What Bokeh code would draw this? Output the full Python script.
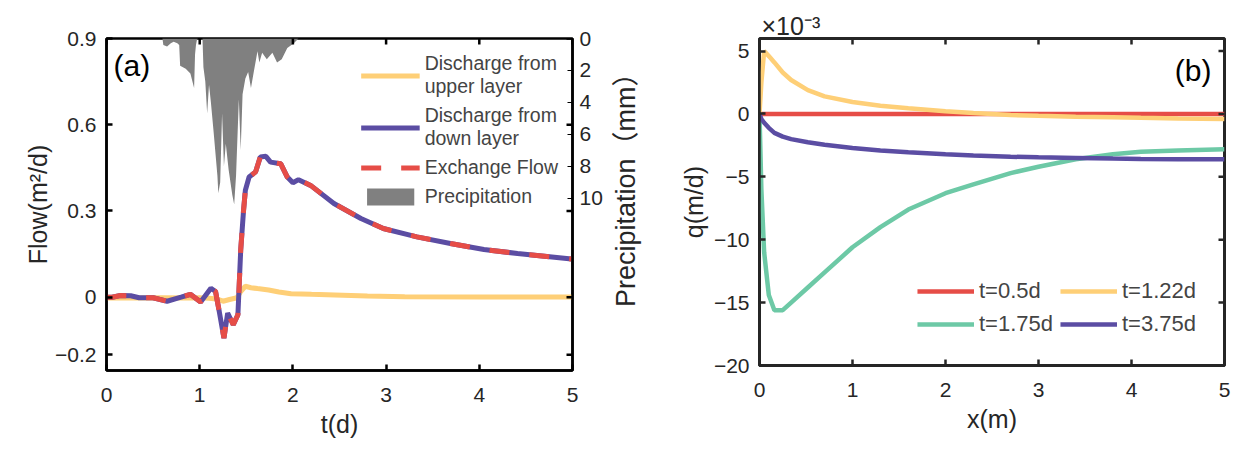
import math
import numpy as np
from bokeh.plotting import figure
from bokeh.models import (Range1d, LinearAxis, FixedTicker, Legend, LegendItem, Label, Title)
from bokeh.layouts import row
from bokeh.embed import file_html
from bokeh.resources import INLINE

FONT = "Liberation Sans"

# ---------------- panel (a) data ----------------
t_rain = [0.60, 0.61, 0.65, 0.69, 0.72, 0.76, 0.78, 0.79, 0.85, 0.90, 0.94, 0.95, 0.96, 0.97,
          0.98, 1.03, 1.04, 1.06, 1.08, 1.10, 1.12, 1.15, 1.19, 1.20, 1.22, 1.24, 1.26, 1.28,
          1.31, 1.35, 1.37, 1.39, 1.42, 1.44, 1.46, 1.49, 1.52, 1.55, 1.58, 1.62, 1.64, 1.67,
          1.72, 1.78, 1.83, 1.88, 1.94, 2.01, 2.06]
rain_mm = [0, 0.4, 0.5, 0.3, 0.2, 0.3, 0.4, 1.7, 1.9, 2.2, 3.1, 1.0, 0.4, 0.1,
           0, 0, 1.8, 2.7, 4.7, 2.9, 4.0, 5.9, 8.6, 9.7, 9.0, 4.7, 8.0, 6.6,
           8.2, 9.8, 10.4, 8.6, 3.8, 7.0, 3.5, 2.5, 2.1, 3.1, 2.1, 0.8, 1.5, 0.9,
           1.3, 0.9, 1.5, 1.3, 0.6, 0.3, 0]

t_flow = [0, 0.06, 0.15, 0.26, 0.35, 0.5, 0.65, 0.8, 0.9, 1.01, 1.12, 1.17, 1.21, 1.26, 1.30,
          1.36, 1.41, 1.44, 1.47, 1.49, 1.53, 1.60, 1.65, 1.71, 1.76, 1.87, 1.94, 2.0, 2.06,
          2.19, 2.44, 2.73, 2.97, 3.33, 3.69, 4.05, 4.41, 4.99]
q_down = [0, 0.0, 0.006, 0.005, -0.002, -0.002, -0.014, 0.0, 0.01, -0.017, 0.031, 0.02, -0.05,
          -0.142, -0.055, -0.096, -0.061, 0.164, 0.30, 0.372, 0.418, 0.436, 0.488, 0.49, 0.47,
          0.464, 0.418, 0.398, 0.409, 0.389, 0.326, 0.274, 0.239, 0.21, 0.187, 0.166, 0.152, 0.133]
q_exchange = list(q_down)

t_up = [0, 0.3, 0.6, 0.9, 1.0, 1.1, 1.18, 1.25, 1.32, 1.4, 1.44, 1.49, 1.55, 1.62, 1.74, 1.85,
        1.98, 2.2, 2.45, 2.8, 3.2, 4.0, 5.0]
q_up = [-0.003, -0.003, -0.002, -0.003, -0.002, -0.004, -0.006, -0.014, -0.008, -0.002, 0.02,
        0.038, 0.033, 0.03, 0.025, 0.018, 0.012, 0.01, 0.008, 0.004, 0.002, 0.001, 0.001]

# ---------------- panel (b) data (units of 1e-3 m/d) ----------------
x_b = [0, 0.02, 0.05, 0.1, 0.16, 0.25, 0.34, 0.52, 0.7, 1.0, 1.3, 1.6, 2.0, 2.3, 2.7, 3.0,
       3.4, 3.8, 4.1, 4.5, 5.0]
q_t05 = [0] * len(x_b)
q_t122 = [0, 2.5, 5.0, 4.6, 4.1, 3.3, 2.7, 1.9, 1.4, 0.95, 0.65, 0.45, 0.22, 0.07, -0.08,
          -0.15, -0.22, -0.27, -0.31, -0.36, -0.4]
q_t175 = [0, -6, -11, -14.4, -15.6, -15.6, -15.0, -13.8, -12.6, -10.6, -9.0, -7.6, -6.3, -5.6,
          -4.7, -4.2, -3.6, -3.2, -3.0, -2.9, -2.8]
q_t375 = [0, -0.4, -0.7, -1.1, -1.5, -1.8, -2.0, -2.25, -2.45, -2.7, -2.9, -3.05, -3.2, -3.3,
          -3.4, -3.45, -3.5, -3.55, -3.58, -3.6, -3.6]

ticks_t = [0, 1, 2, 3, 4, 5]
ticks_flow = [-0.2, 0, 0.3, 0.6, 0.9]
ticks_rain = [0, 2, 4, 6, 8, 10]
ticks_q = [-20, -15, -10, -5, 0, 5]

RED = "#E64D47"
YEL = "#FECF77"
BLU = "#5B4DA3"
GRN = "#6DC9A6"
GRY = "#808080"

TICK_FS = "21px"
LAB_FS = "25px"


def style_axis(ax, color="black"):
    ax.axis_line_color = color
    ax.axis_line_width = 2.5
    ax.major_tick_in = 6
    ax.major_tick_out = 0
    ax.major_tick_line_width = 2.5
    ax.major_tick_line_color = color
    ax.minor_tick_line_color = None
    ax.major_label_text_font = FONT
    ax.major_label_text_font_size = TICK_FS
    ax.major_label_text_color = "#262626"
    ax.axis_label_text_font = FONT
    ax.axis_label_text_font_size = LAB_FS
    ax.axis_label_text_font_style = "normal"
    ax.axis_label_text_color = "#262626"


def mirror_ticks(p, xs, ys, horizontal, color):
    # small inward tick marks on the top / right frame edges (half clipped by the frame)
    p.scatter(x=xs, y=ys, marker="dash", size=12, line_width=2.5, line_color=color,
              angle=0 if horizontal else math.pi / 2)


# ---------------- figure (a) ----------------
pa = figure(output_backend="svg", toolbar_location=None,
            frame_width=466, frame_height=332,
            min_border_left=106, min_border_right=31, min_border_top=36, min_border_bottom=52,
            x_range=Range1d(0, 5), y_range=Range1d(-0.255, 0.9))
pa.extra_y_ranges = {"rain": Range1d(20.8, 0)}
pa.grid.visible = False
pa.outline_line_color = "black"
pa.outline_line_width = 2.5
pa.background_fill_color = "white"
pa.border_fill_color = "white"

pa.xaxis.ticker = FixedTicker(ticks=ticks_t)
pa.yaxis.ticker = FixedTicker(ticks=ticks_flow)
pa.yaxis.major_label_overrides = {0: "0"}
pa.xaxis.axis_label = "t(d)"
pa.yaxis.axis_label = "Flow(m\u00b2/d)"
for ax in pa.xaxis + pa.yaxis:
    style_axis(ax)
pa.xaxis.major_label_standoff = 17
pa.yaxis.major_label_standoff = 10
pa.xaxis.axis_label_standoff = 5
pa.yaxis.axis_label_standoff = 0

rain_ax = LinearAxis(y_range_name="rain", ticker=FixedTicker(ticks=ticks_rain))
style_axis(rain_ax)
rain_ax.major_tick_line_width = 1
rain_ax.major_tick_in = 5
rain_ax.major_label_standoff = 7
pa.add_layout(rain_ax, "right")

r_rain = pa.varea(x=t_rain, y1=[0] * len(t_rain), y2=rain_mm, y_range_name="rain",
                  fill_color=GRY, fill_alpha=1.0)
r_up = pa.line(t_up, q_up, line_color=YEL, line_width=5)
r_down = pa.line(t_flow, q_down, line_color=BLU, line_width=5)
r_ex = pa.line(t_flow, q_exchange, line_color=RED, line_width=5, line_dash="20 20")

mirror_ticks(pa, ticks_t, [0.9] * len(ticks_t), False, "black")
mirror_ticks(pa, [5] * len(ticks_flow), ticks_flow, True, "black")

leg_a = Legend(items=[
    LegendItem(label="Discharge from\nupper layer", renderers=[r_up]),
    LegendItem(label="Discharge from\ndown layer", renderers=[r_down]),
    LegendItem(label="Exchange Flow", renderers=[r_ex]),
    LegendItem(label="Precipitation", renderers=[r_rain]),
], location="top_right")
leg_a.label_text_font = FONT
leg_a.label_text_font_size = "19.5px"
leg_a.label_text_line_height = 1.38
leg_a.glyph_width = 59
leg_a.glyph_height = 21
leg_a.label_standoff = 5
leg_a.spacing = 6
leg_a.padding = 3
leg_a.margin = 14
leg_a.border_line_color = None
leg_a.background_fill_alpha = 0
pa.add_layout(leg_a)

pa.add_layout(Label(x=0.075, y=0.805, text="(a)", text_font=FONT, text_font_size="30px",
                    text_baseline="middle", text_align="left", text_color="black"))

# ---------------- figure (b) ----------------
pb = figure(output_backend="svg", toolbar_location=None,
            frame_width=465, frame_height=327,
            min_border_left=154, min_border_right=7, min_border_top=38, min_border_bottom=55,
            x_range=Range1d(0, 5), y_range=Range1d(-20, 6))
pb.grid.visible = False
pb.outline_line_color = "#262626"
pb.outline_line_width = 3
pb.background_fill_color = "white"
pb.border_fill_color = "white"
pb.title = Title(text="\u00d710\u207b\u00b3", align="left", text_font=FONT,
                 text_font_size="25px", text_font_style="normal", text_color="#262626",
                 offset=2, standoff=-3)
pb.xaxis.ticker = FixedTicker(ticks=ticks_t)
pb.yaxis.ticker = FixedTicker(ticks=ticks_q)
pb.xaxis.axis_label = "x(m)"
pb.yaxis.axis_label = "q(m/d)"
for ax in pb.xaxis + pb.yaxis:
    style_axis(ax, color="#262626")
pb.xaxis.major_label_standoff = 17
pb.yaxis.major_label_standoff = 10
pb.xaxis.axis_label_standoff = 5
pb.yaxis.axis_label_standoff = 3

# precipitation axis title of panel (a): an unticked outer axis label in the gap between panels
rain_label_ax = LinearAxis(ticker=FixedTicker(ticks=[]),
                           axis_label="\u00a0" * 5 + "Precipitation\uff08mm\uff09")
style_axis(rain_label_ax)
rain_label_ax.axis_line_color = None
rain_label_ax.major_tick_line_color = None
rain_label_ax.axis_label_text_font = "Liberation Sans, Noto Sans CJK SC"
rain_label_ax.axis_label_text_font_size = "27px"
rain_label_ax.axis_label_standoff = 36
pb.add_layout(rain_label_ax, "left")

b1 = pb.line(x_b, q_t05, line_color=RED, line_width=4.5)
b2 = pb.line(x_b, q_t122, line_color=YEL, line_width=4.5)
b3 = pb.line(x_b, q_t175, line_color=GRN, line_width=4.5)
b4 = pb.line(x_b, q_t375, line_color=BLU, line_width=4.5)

mirror_ticks(pb, ticks_t, [6] * len(ticks_t), False, "#262626")
mirror_ticks(pb, [5] * len(ticks_q), ticks_q, True, "#262626")

leg_b = Legend(items=[
    LegendItem(label="t=0.5d", renderers=[b1]),
    LegendItem(label="t=1.22d", renderers=[b2]),
    LegendItem(label="t=1.75d", renderers=[b3]),
    LegendItem(label="t=3.75d", renderers=[b4]),
], location="bottom_right", orientation="horizontal", ncols=2)
leg_b.label_text_font = FONT
leg_b.label_text_font_size = "22px"
leg_b.glyph_width = 57
leg_b.glyph_height = 24
leg_b.label_standoff = 5
leg_b.spacing = 7
leg_b.padding = 3
leg_b.margin = 28
leg_b.border_line_color = None
leg_b.background_fill_alpha = 0
pb.add_layout(leg_b)

pb.add_layout(Label(x=4.86, y=3.43, text="(b)", text_font=FONT, text_font_size="30px",
                    text_baseline="middle", text_align="right", text_color="black"))

layout = row(pa, pb)
open("out.html", "w").write(file_html(layout, INLINE))
